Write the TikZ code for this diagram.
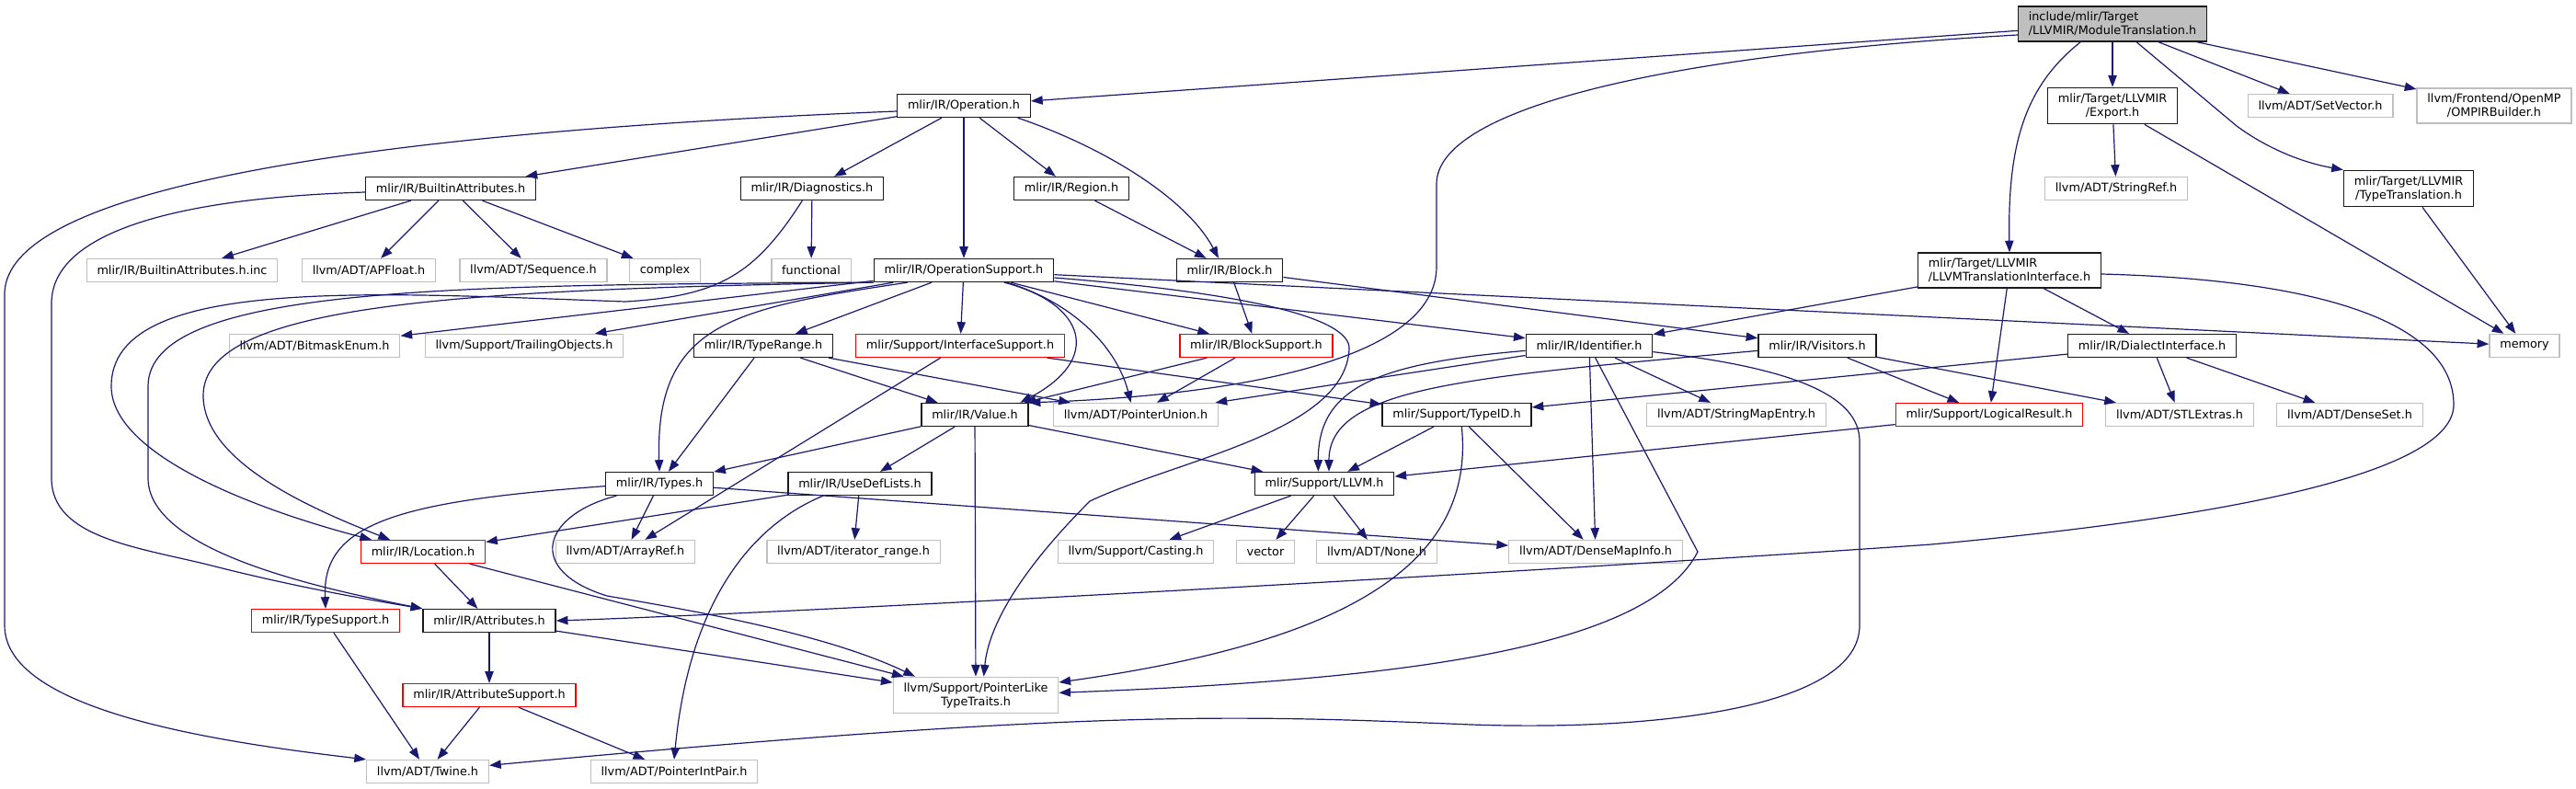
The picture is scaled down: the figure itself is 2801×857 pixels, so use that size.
\documentclass[tikz,border=0pt]{standalone}
\usepackage{fontspec}
\setmainfont{DejaVu Sans}
\usetikzlibrary{positioning,arrows.meta}
\definecolor{edgeblue}{HTML}{191970}
\definecolor{extgrey}{HTML}{BFBFBF}
\definecolor{rootfill}{HTML}{BFBFBF}
\definecolor{docedge}{HTML}{1A1A1A}
\definecolor{truncred}{HTML}{FF0000}
\newcommand{\hdrfont}{\fontsize{9.6pt}{11.25pt}\selectfont}
\tikzset{
  hdr/.style={draw=docedge, fill=white, line width=1pt, font=\hdrfont, inner xsep=8.5pt, inner ysep=4.5pt, minimum height=18.75pt, align=center},
  exthdr/.style={hdr, draw=extgrey},
  cuthdr/.style={hdr, draw=truncred},
  roothdr/.style={hdr, fill=rootfill, align=left},
  incl/.style={draw=edgeblue, line width=0.9pt, -{Triangle[length=9.5pt,width=7pt]}},
}

\begin{document}
\begin{tikzpicture}[x=0.75pt, y=-0.75pt]
    \useasboundingbox (0,0) rectangle (2801,857);

    % row 0 -- the header itself
    \node[roothdr] (root) at (2297,26) {include/mlir/Target\\/LLVMIR/ModuleTranslation.h};

    % row 1
    \node[hdr] (op) at (1048,115) {mlir/IR/Operation.h};
    \node[hdr] (export) at (2297,115) {mlir/Target/LLVMIR\\/Export.h};
    \node[exthdr] (setvector) at (2523,115) {llvm/ADT/SetVector.h};
    \node[exthdr] (ompir) at (2712,115) {llvm/Frontend/OpenMP\\/OMPIRBuilder.h};

    % row 2
    \node[hdr] (builtinattr) at (490,205) {mlir/IR/BuiltinAttributes.h};
    \node[hdr] (diag) at (883,205) {mlir/IR/Diagnostics.h};
    \node[hdr] (region) at (1165,205) {mlir/IR/Region.h};
    \node[exthdr] (stringref) at (2301,205) {llvm/ADT/StringRef.h};
    \node[hdr] (typetrans) at (2619,205) {mlir/Target/LLVMIR\\/TypeTranslation.h};

    % row 3
    \node[exthdr] (builtininc) at (198,294) {mlir/IR/BuiltinAttributes.h.inc};
    \node[exthdr] (apfloat) at (401,294) {llvm/ADT/APFloat.h};
    \node[exthdr] (sequence) at (580,294) {llvm/ADT/Sequence.h};
    \node[exthdr] (complex) at (723,294) {complex};
    \node[exthdr] (functional) at (882,294) {functional};
    \node[hdr] (opsupport) at (1048,294) {mlir/IR/OperationSupport.h};
    \node[hdr] (block) at (1337,294) {mlir/IR/Block.h};
    \node[hdr, align=left] (llvmti) at (2185,294) {mlir/Target/LLVMIR\\/LLVMTranslationInterface.h};

    % row 4
    \node[exthdr] (bitmask) at (342,376) {llvm/ADT/BitmaskEnum.h};
    \node[exthdr] (trailing) at (570,376) {llvm/Support/TrailingObjects.h};
    \node[hdr] (typerange) at (830,376) {mlir/IR/TypeRange.h};
    \node[cuthdr] (ifacesupport) at (1044,376) {mlir/Support/InterfaceSupport.h};
    \node[cuthdr] (blocksupport) at (1366,376) {mlir/IR/BlockSupport.h};
    \node[hdr] (identifier) at (1728,376) {mlir/IR/Identifier.h};
    \node[hdr] (visitors) at (1976,376) {mlir/IR/Visitors.h};
    \node[hdr] (dialectiface) at (2340,376) {mlir/IR/DialectInterface.h};
    \node[exthdr] (memory) at (2745,376) {memory};

    % row 5
    \node[hdr] (value) at (1060,451) {mlir/IR/Value.h};
    \node[exthdr] (ptrunion) at (1235,451) {llvm/ADT/PointerUnion.h};
    \node[hdr] (typeid) at (1584,451) {mlir/Support/TypeID.h};
    \node[exthdr] (strmapentry) at (1888,451) {llvm/ADT/StringMapEntry.h};
    \node[cuthdr] (logicalresult) at (2163,451) {mlir/Support/LogicalResult.h};
    \node[exthdr] (stlextras) at (2370,451) {llvm/ADT/STLExtras.h};
    \node[exthdr] (denseset) at (2555,451) {llvm/ADT/DenseSet.h};

    % row 6
    \node[hdr] (types) at (717,526) {mlir/IR/Types.h};
    \node[hdr] (usedef) at (935,526) {mlir/IR/UseDefLists.h};
    \node[hdr] (llvmh) at (1440,526) {mlir/Support/LLVM.h};

    % row 7
    \node[cuthdr] (location) at (460,600) {mlir/IR/Location.h};
    \node[exthdr] (arrayref) at (680,600) {llvm/ADT/ArrayRef.h};
    \node[exthdr] (iterrange) at (928,600) {llvm/ADT/iterator\_range.h};
    \node[exthdr] (casting) at (1235,600) {llvm/Support/Casting.h};
    \node[exthdr] (vector) at (1376,600) {vector};
    \node[exthdr] (none) at (1497,600) {llvm/ADT/None.h};
    \node[exthdr] (densemapinfo) at (1735,600) {llvm/ADT/DenseMapInfo.h};

    % rows 8 to 10
    \node[cuthdr] (typesupport) at (354,675) {mlir/IR/TypeSupport.h};
    \node[hdr] (attrs) at (532,675) {mlir/IR/Attributes.h};
    \node[cuthdr] (attrsupport) at (532,756) {mlir/IR/AttributeSupport.h};
    \node[exthdr] (pltt) at (1061,756) {llvm/Support/PointerLike\\TypeTraits.h};
    \node[exthdr] (twine) at (465,839) {llvm/ADT/Twine.h};
    \node[exthdr] (ptrintpair) at (733,839) {llvm/ADT/PointerIntPair.h};

    % includes of the header
    \draw[incl] (root) -- (op);
    \draw[incl] ([yshift=-9pt]root.west) .. controls (1800,60) and (1562,120) .. (1562,200) -- (1562,290) .. controls (1562,390) and (1350,430) .. (value.north east);
    \draw[incl] (root) -- (export);
    \draw[incl] ([xshift=-26pt]root.south) .. controls (2200,95) and (2183,160) .. (llvmti.north);
    \draw[incl] (root) -- (setvector);
    \draw[incl] (root) -- (ompir);
    \draw[incl] ([xshift=19.5pt]root.south) -- (2432,137) .. controls (2470,165) and (2510,178) .. (typetrans.north west);

    % target headers
    \draw[incl] (export) -- (stringref);
    \draw[incl] (export) -- (memory);
    \draw[incl] (typetrans) -- (memory);
    \draw[incl] (llvmti) -- (identifier);
    \draw[incl] (llvmti) -- (logicalresult);
    \draw[incl] (llvmti) -- (dialectiface);
    \draw[incl] ([yshift=-3pt]llvmti.east) .. controls (2550,305) and (2668,360) .. (2668,440) .. controls (2668,510) and (2450,560) .. (2100,592) .. controls (1700,620) and (900,665) .. (attrs.east);
    \draw[incl] (dialectiface) -- (typeid);
    \draw[incl] (dialectiface) -- (stlextras);
    \draw[incl] (dialectiface) -- (denseset);

    % Operation.h
    \draw[incl] ([yshift=-4.5pt]op.west) .. controls (500,140) and (5,190) .. (5,320) -- (5,680) .. controls (5,770) and (220,805) .. (twine.north west);
    \draw[incl] (op) -- (builtinattr);
    \draw[incl] (op) -- (diag);
    \draw[incl] (op) -- (opsupport);
    \draw[incl] (op) -- (region);
    \draw[incl] ([xshift=44pt]op.south) .. controls (1200,160) and (1290,215) .. ([xshift=-9pt]block.north);

    % BuiltinAttributes.h
    \draw[incl] (builtinattr) -- (builtininc);
    \draw[incl] (builtinattr) -- (apfloat);
    \draw[incl] (builtinattr) -- (sequence);
    \draw[incl] (builtinattr) -- (complex);
    \draw[incl] ([yshift=-3pt]builtinattr.west) .. controls (200,215) and (56,250) .. (56,330) -- (56,520) .. controls (56,585) and (150,595) .. (230,615) .. controls (320,638) and (400,652) .. (attrs.north west);

    % Diagnostics.h
    \draw[incl] (diag) -- (functional);
    \draw[incl] ([xshift=-8pt]diag.south) .. controls (820,300) and (780,322) .. (680,328) .. controls (400,318) and (121,300) .. (121,420) .. controls (121,500) and (300,560) .. ([xshift=-42pt]location.north);

    % OperationSupport.h
    \draw[incl] (opsupport) -- (bitmask);
    \draw[incl] (opsupport) -- (trailing);
    \draw[incl] (opsupport.south west) .. controls (500,315) and (221,330) .. (221,430) .. controls (221,500) and (330,550) .. ([xshift=-27pt]location.north);
    \draw[incl] (opsupport.south west) .. controls (500,310) and (161,310) .. (161,420) -- (161,520) .. controls (161,600) and (350,640) .. (attrs.north west);
    \draw[incl] ([xshift=-46pt]opsupport.south) .. controls (800,335) and (712,350) .. (types.north);
    \draw[incl] (opsupport) -- (typerange);
    \draw[incl] (opsupport) -- (ifacesupport);
    \draw[incl] ([xshift=33pt]opsupport.south) .. controls (1180,330) and (1200,390) .. ([xshift=37pt]value.north);
    \draw[incl] ([xshift=35pt]opsupport.south) .. controls (1170,330) and (1215,380) .. ([xshift=-4pt]ptrunion.north);
    \draw[incl] (opsupport) -- (blocksupport);
    \draw[incl] ([yshift=-6pt]opsupport.east) .. controls (1350,318) and (1470,345) .. (1467,380) .. controls (1462,470) and (1280,500) .. (1185,545) .. controls (1110,620) and (1075,680) .. ([xshift=6.5pt]pltt.north);
    \draw[incl] (opsupport) -- (identifier);
    \draw[incl] (opsupport) -- (memory);

    % Region.h, Block.h
    \draw[incl] (region) -- (block);
    \draw[incl] (block) -- (blocksupport);
    \draw[incl] (block) -- (visitors);

    % TypeRange.h, InterfaceSupport.h, BlockSupport.h
    \draw[incl] (typerange) -- (types);
    \draw[incl] (typerange) -- (value);
    \draw[incl] (typerange) -- (ptrunion);
    \draw[incl] (ifacesupport) -- (arrayref);
    \draw[incl] (ifacesupport) -- (typeid);
    \draw[incl] (blocksupport) -- (value);
    \draw[incl] (blocksupport) -- (ptrunion);

    % Value.h
    \draw[incl] (value) -- (types);
    \draw[incl] (value) -- (usedef);
    \draw[incl] (value) -- (pltt);
    \draw[incl] (value) -- (llvmh);

    % Types.h
    \draw[incl] ([yshift=-2pt]types.west) .. controls (430,545) and (350,570) .. (typesupport.north);
    \draw[incl] (types) -- (arrayref);
    \draw[incl] ([xshift=-35pt]types.south) .. controls (590,560) and (570,620) .. (660,648) .. controls (760,665) and (900,690) .. ([xshift=-49.5pt]pltt.north);
    \draw[incl] (types) -- (densemapinfo);

    % UseDefLists.h
    \draw[incl] (usedef) -- (location);
    \draw[incl] (usedef) -- (iterrange);
    \draw[incl] ([xshift=-30pt]usedef.south) .. controls (820,570) and (750,650) .. (ptrintpair.north);

    % Location.h, TypeSupport.h, Attributes.h, AttributeSupport.h
    \draw[incl] (location) -- (attrs);
    \draw[incl] (location) -- (pltt);
    \draw[incl] (typesupport) -- (twine);
    \draw[incl] (attrs) -- (attrsupport);
    \draw[incl] (attrs) -- (pltt);
    \draw[incl] (attrsupport) -- (twine);
    \draw[incl] (attrsupport) -- (ptrintpair);

    % Identifier.h
    \draw[incl] ([yshift=-4pt]identifier.west) .. controls (1500,395) and (1433,420) .. ([xshift=-5pt]llvmh.north);
    \draw[incl] (identifier) -- (ptrunion);
    \draw[incl] (identifier) -- (strmapentry);
    \draw[incl] (identifier) -- (densemapinfo);
    \draw[incl] ([xshift=5pt]identifier.south) -- (1846,600) .. controls (1790,710) and (1500,740) .. ([yshift=2pt]pltt.east);
    \draw[incl] ([yshift=-5pt]identifier.east) .. controls (1950,400) and (2022,430) .. (2022,480) -- (2022,680) .. controls (2022,770) and (1800,795) .. (1600,788) .. controls (1350,778) and (1200,770) .. ([yshift=5pt]twine.east);

    % Visitors.h
    \draw[incl] ([yshift=-4pt]visitors.west) .. controls (1600,410) and (1445,420) .. ([xshift=3.75pt]llvmh.north);
    \draw[incl] (visitors) -- (logicalresult);
    \draw[incl] (visitors) -- (stlextras);

    % TypeID.h, LogicalResult.h, LLVM.h
    \draw[incl] (typeid) -- (llvmh);
    \draw[incl] (typeid) -- (densemapinfo);
    \draw[incl] ([xshift=4pt]typeid.south) .. controls (1605,620) and (1450,700) .. ([yshift=10.5pt]pltt.east);
    \draw[incl] (logicalresult) -- (llvmh);
    \draw[incl] (llvmh) -- (casting);
    \draw[incl] (llvmh) -- (vector);
    \draw[incl] (llvmh) -- (none);
\end{tikzpicture}
\end{document}
